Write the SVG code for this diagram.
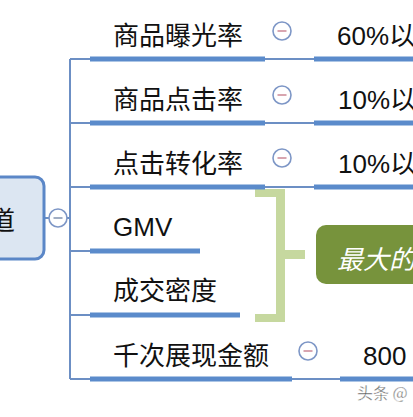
<svg xmlns="http://www.w3.org/2000/svg" width="413" height="417" viewBox="0 0 413 417">
<defs>
<style>
.lbl{font-family:"Liberation Sans","Noto Sans CJK SC",sans-serif;font-size:26px;fill:#111}
.bar{fill:#5b8bcb}
.thin{stroke:#6c8fc4;stroke-width:2;fill:none}
.tog{fill:#fff;stroke:#7d96c6;stroke-width:1.6}
.minus{stroke:#cf8f9c;stroke-width:1.6}
.br{fill:#c6d89f}
</style>
</defs>
<rect width="413" height="417" fill="#fff"/>
<g id="connectors">
<line class="thin" x1="70" y1="59" x2="70" y2="379"/>
<line class="thin" x1="44" y1="218" x2="49" y2="218"/>
<line class="thin" x1="67" y1="218" x2="70" y2="218"/>
<line class="thin" x1="70" y1="59" x2="90" y2="59"/>
<line class="thin" x1="70" y1="123" x2="90" y2="123"/>
<line class="thin" x1="70" y1="187" x2="90" y2="187"/>
<line class="thin" x1="70" y1="251" x2="90" y2="251"/>
<line class="thin" x1="70" y1="315" x2="90" y2="315"/>
<line class="thin" x1="70" y1="379" x2="90" y2="379"/>
<line class="thin" x1="265" y1="59" x2="314" y2="59"/>
<line class="thin" x1="265" y1="123" x2="314" y2="123"/>
<line class="thin" x1="265" y1="187" x2="314" y2="187"/>
<line class="thin" x1="292" y1="379" x2="340" y2="379"/>
</g>
<g id="root">
<rect x="-60" y="177" width="104" height="82" rx="9" fill="#dce6f2" stroke="#5b87c7" stroke-width="3"/>
<text class="lbl" x="15" y="230" text-anchor="end">道</text>
<circle class="tog" cx="58" cy="218" r="9"/>
<line stroke="#8a9ab5" stroke-width="1.6" x1="53.5" y1="218" x2="62.5" y2="218"/>
</g>
<g id="bracket">
<rect class="br" x="255" y="189" width="30" height="8"/>
<rect class="br" x="276" y="189" width="9" height="133"/>
<rect class="br" x="255" y="314" width="30" height="8"/>
<rect class="br" x="285" y="250" width="20" height="9"/>
</g>
<g id="n1">
<text class="lbl" x="113" y="45">商品曝光率</text>
<rect class="bar" x="90" y="56.5" width="175" height="5"/>
</g>
<g id="t1"><circle class="tog" cx="282" cy="31" r="9"/><line class="minus" x1="277.5" y1="31" x2="286.5" y2="31"/></g>
<g id="v1">
<text class="lbl" x="337" y="45">60%以</text>
<rect class="bar" x="314" y="56.5" width="99" height="5"/>
</g>
<g id="n2">
<text class="lbl" x="113" y="109">商品点击率</text>
<rect class="bar" x="90" y="120.5" width="175" height="5"/>
</g>
<g id="t2"><circle class="tog" cx="282" cy="95" r="9"/><line class="minus" x1="277.5" y1="95" x2="286.5" y2="95"/></g>
<g id="v2">
<text class="lbl" x="338" y="109">10%以</text>
<rect class="bar" x="314" y="120.5" width="99" height="5"/>
</g>
<g id="n3">
<text class="lbl" x="113" y="173">点击转化率</text>
<rect class="bar" x="90" y="184.5" width="175" height="5"/>
</g>
<g id="t3"><circle class="tog" cx="282" cy="158" r="9"/><line class="minus" x1="277.5" y1="158" x2="286.5" y2="158"/></g>
<g id="v3">
<text class="lbl" x="338" y="173">10%以</text>
<rect class="bar" x="314" y="184.5" width="99" height="5"/>
</g>
<g id="n4">
<text class="lbl" x="113" y="236">GMV</text>
<rect class="bar" x="90" y="248.5" width="110" height="5"/>
</g>
<g id="n5">
<text class="lbl" x="113" y="300">成交密度</text>
<rect class="bar" x="90" y="312.5" width="150" height="5"/>
</g>
<g id="summary">
<rect x="316" y="225" width="120" height="59" rx="10" fill="#77933c"/>
<text x="337" y="269" font-family="'Noto Sans CJK SC',sans-serif" font-size="26" font-style="italic" fill="#fff">最大的</text>
</g>
<g id="n6">
<text class="lbl" x="113" y="365">千次展现金额</text>
<rect class="bar" x="90" y="376.5" width="202" height="5"/>
</g>
<g id="t6"><circle class="tog" cx="308" cy="351" r="9"/><line class="minus" x1="303.5" y1="351" x2="312.5" y2="351"/></g>
<g id="v6">
<text class="lbl" x="363" y="365">800</text>
<rect class="bar" x="340" y="376.5" width="73" height="5"/>
</g>
<text x="357" y="399" font-family="'Noto Sans CJK SC',sans-serif" font-size="16" fill="#555" stroke="#fff" stroke-width="0.4">头条 @</text>
</svg>
